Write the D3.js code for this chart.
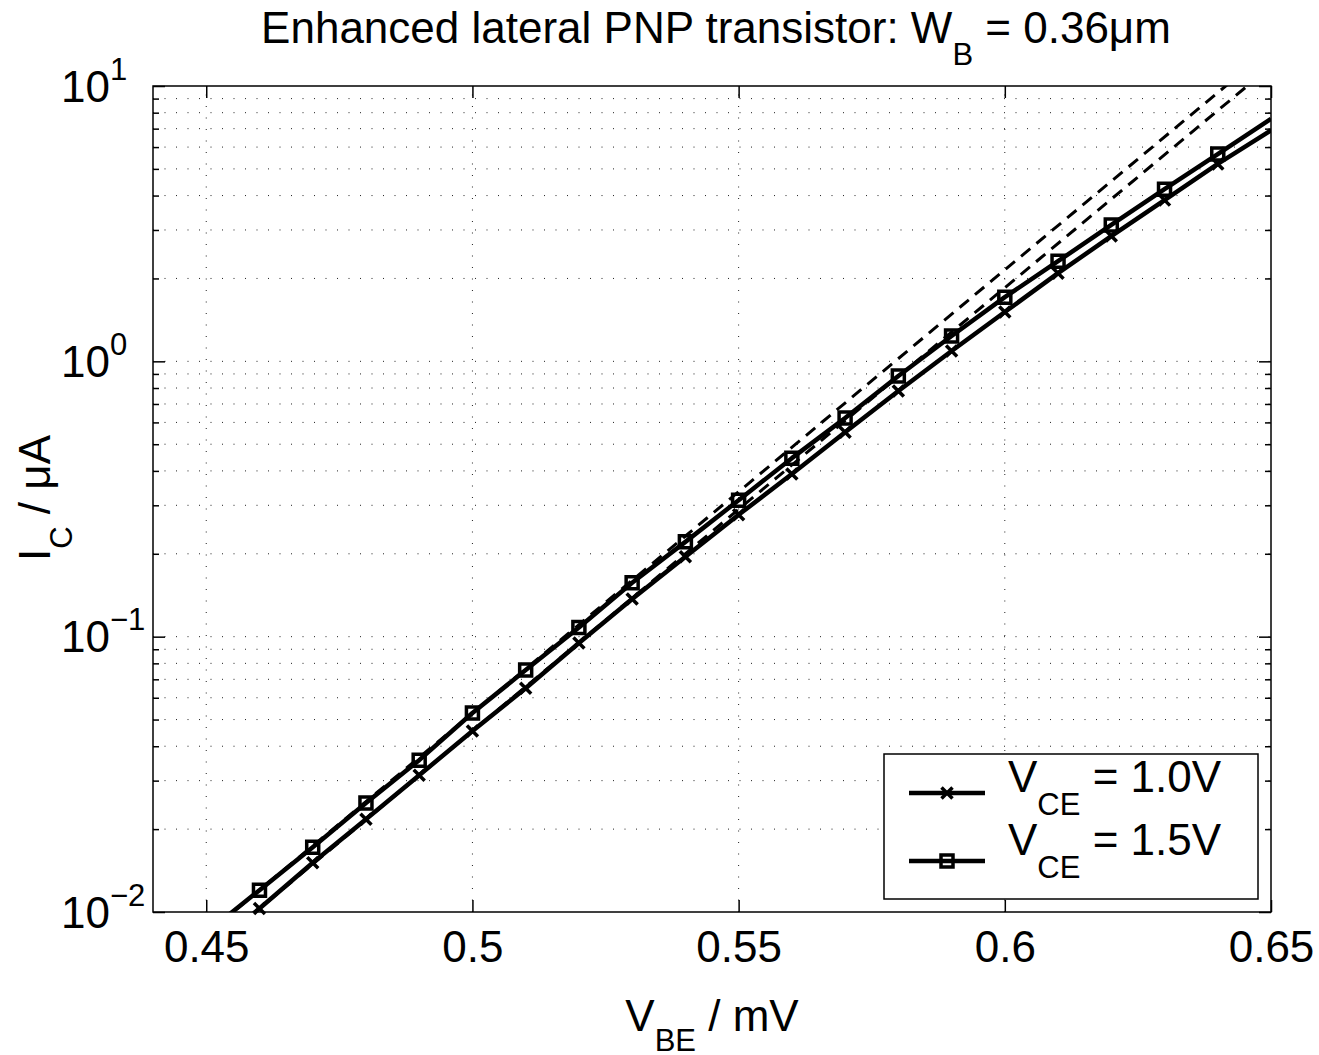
<!DOCTYPE html>
<html>
<head>
<meta charset="utf-8">
<script src="https://cdn.jsdelivr.net/npm/d3@7"></script>
<style>
  body { margin: 0; background: #fff; }
  text { font-family: "Liberation Sans", Arial, Helvetica, sans-serif; fill: #000; }
</style>
</head>
<body>
<div id="chart"></div>
<script>
// V_BE sweep (V) and collector current (uA), one value per sweep point
var vbe = [0.45, 0.46, 0.47, 0.48, 0.49, 0.50, 0.51, 0.52, 0.53, 0.54, 0.55,
           0.56, 0.57, 0.58, 0.59, 0.60, 0.61, 0.62, 0.63, 0.64, 0.65];
var icVce10 = [0.0071, 0.0103, 0.0151, 0.0217, 0.0314, 0.0454, 0.065, 0.0948, 0.137, 0.195, 0.277,
               0.390, 0.553, 0.780, 1.09, 1.51, 2.09, 2.85, 3.85, 5.21, 6.9];
var icVce15 = [0.0084, 0.0120, 0.0172, 0.0249, 0.0356, 0.0528, 0.0756, 0.108, 0.157, 0.221, 0.313,
               0.445, 0.622, 0.885, 1.236, 1.71, 2.31, 3.13, 4.22, 5.66, 7.6];

// ideal (dashed) curves
var vbeIdeal = [0.45, 0.50, 0.55, 0.60, 0.65];
var idealVce10 = [0.0071, 0.0454, 0.290, 1.85, 11.8];
var idealVce15 = [0.0083, 0.0527, 0.336, 2.15, 13.7];

var xTicks = [0.45, 0.5, 0.55, 0.6, 0.65];
var yTickExp = ["\u22122", "\u22121", "0", "1"];
var legendLabels = ["1.0V", "1.5V"];

var width = 1319, height = 1055;
var plotL = 153, plotR = 1271, plotT = 86, plotB = 912;
var fontMain = 44, fontSub = 31;

var svg = d3.select("#chart").append("svg")
  .attr("width", width)
  .attr("height", height);

var x = d3.scaleLinear().domain([0.44, 0.65]).range([plotL, plotR]);
var y = d3.scaleLog().domain([1e-2, 1e1]).range([plotB, plotT]);

var allY = y.ticks();
var isMajor = function(d) {
  var l = Math.log10(d);
  return Math.abs(l - Math.round(l)) < 1e-9;
};
var yMajor = allY.filter(isMajor);
var yMinor = allY.filter(function(d) { return !isMajor(d); });

svg.append("clipPath").attr("id", "plotClip")
  .append("rect")
  .attr("x", plotL).attr("y", plotT)
  .attr("width", plotR - plotL).attr("height", plotB - plotT);

// dotted grid
var grid = svg.append("g")
  .attr("stroke", "#222")
  .attr("stroke-width", 1)
  .attr("stroke-dasharray", "1,10.5");
grid.selectAll("line.gx")
  .data(xTicks.filter(function(d) { return d < 0.65; }))
  .enter().append("line")
  .attr("x1", function(d) { return x(d); }).attr("x2", function(d) { return x(d); })
  .attr("y1", plotB).attr("y2", plotT);
grid.selectAll("line.gy")
  .data(allY.filter(function(d) { return d > 1e-2 && d < 1e1; }))
  .enter().append("line")
  .attr("x1", plotL).attr("x2", plotR)
  .attr("y1", function(d) { return y(d); }).attr("y2", function(d) { return y(d); });

// data
var solid = d3.line()
  .x(function(d) { return x(d[0]); })
  .y(function(d) { return y(d[1]); });

var plot = svg.append("g").attr("clip-path", "url(#plotClip)");

[idealVce10, idealVce15].forEach(function(s) {
  plot.append("path")
    .attr("d", solid(d3.zip(vbeIdeal, s)))
    .attr("fill", "none")
    .attr("stroke", "#000")
    .attr("stroke-width", 3)
    .attr("stroke-dasharray", "12,8");
});

[icVce10, icVce15].forEach(function(s) {
  plot.append("path")
    .attr("d", solid(d3.zip(vbe, s)))
    .attr("fill", "none")
    .attr("stroke", "#000")
    .attr("stroke-width", 4.5)
    .attr("stroke-linejoin", "round");
});

var crossPath = "M-5.5,-5.5L5.5,5.5M-5.5,5.5L5.5,-5.5";
var squarePath = "M-6,-6H6V6H-6Z";

function drawMarkers(g, xs, ys, shape) {
  var pts = d3.zip(xs, ys).filter(function(d) { return d[0] > 0.455 && d[0] < 0.645; });
  g.selectAll(null).data(pts).enter().append("path")
    .attr("d", shape)
    .attr("transform", function(d) { return "translate(" + x(d[0]) + "," + y(d[1]) + ")"; })
    .attr("fill", "none")
    .attr("stroke", "#000")
    .attr("stroke-width", 3.5);
}
drawMarkers(svg.append("g"), vbe, icVce10, crossPath);
drawMarkers(svg.append("g"), vbe, icVce15, squarePath);

// axes (ticks inward on all four sides)
function styleAxis(g) {
  g.select(".domain").remove();
  g.selectAll(".tick line").attr("stroke", "#000").attr("stroke-width", 1.5);
  g.attr("font-family", null).attr("font-size", fontMain);
}

svg.append("g")
  .attr("transform", "translate(0," + plotB + ")")
  .call(d3.axisBottom(x).tickValues(xTicks).tickSize(-12).tickSizeOuter(0).tickPadding(19)
    .tickFormat(function(d) { return String(+d.toFixed(2)); }))
  .call(styleAxis);
svg.append("g")
  .attr("transform", "translate(0," + plotT + ")")
  .call(d3.axisTop(x).tickValues(xTicks).tickSize(-12).tickSizeOuter(0).tickFormat(""))
  .call(styleAxis);

[[d3.axisLeft, plotL], [d3.axisRight, plotR]].forEach(function(a) {
  svg.append("g")
    .attr("transform", "translate(" + a[1] + ",0)")
    .call(a[0](y).tickValues(yMajor).tickSize(-12).tickSizeOuter(0).tickFormat(""))
    .call(styleAxis);
  svg.append("g")
    .attr("transform", "translate(" + a[1] + ",0)")
    .call(a[0](y).tickValues(yMinor).tickSize(-6).tickSizeOuter(0).tickFormat(""))
    .call(styleAxis);
});

svg.append("rect")
  .attr("x", plotL).attr("y", plotT)
  .attr("width", plotR - plotL).attr("height", plotB - plotT)
  .attr("fill", "none").attr("stroke", "#000").attr("stroke-width", 1.5);

// y tick labels 10^n
var yl = svg.append("g").selectAll("text")
  .data(yMajor).enter().append("text")
  .attr("x", 61)
  .attr("y", function(d) { return y(d) + 15.5; })
  .attr("font-size", fontMain);
yl.append("tspan").text("10");
yl.append("tspan")
  .attr("dy", -22)
  .attr("font-size", fontSub)
  .text(function(d, i) { return yTickExp[i]; });

// title
var title = svg.append("text")
  .attr("x", 716).attr("y", 43)
  .attr("text-anchor", "middle")
  .attr("font-size", fontMain);
title.append("tspan").text("Enhanced lateral PNP transistor: W");
title.append("tspan").attr("dy", 22).attr("font-size", fontSub).text("B");
title.append("tspan").attr("dy", -22).text(" = 0.36\u03bcm");

// x label
var xl = svg.append("text")
  .attr("x", 712).attr("y", 1031)
  .attr("text-anchor", "middle")
  .attr("font-size", fontMain);
xl.append("tspan").text("V");
xl.append("tspan").attr("dy", 20).attr("font-size", fontSub).text("BE");
xl.append("tspan").attr("dy", -20).text(" / mV");

// y label
var ylab = svg.append("text")
  .attr("transform", "translate(50,498) rotate(-90)")
  .attr("text-anchor", "middle")
  .attr("font-size", fontMain);
ylab.append("tspan").text("I");
ylab.append("tspan").attr("dy", 22).attr("font-size", fontSub).text("C");
ylab.append("tspan").attr("dy", -22).text(" / \u03bcA");

// legend
var legend = svg.append("g");
legend.append("rect")
  .attr("x", 884).attr("y", 754)
  .attr("width", 374).attr("height", 145)
  .attr("fill", "#fff").attr("stroke", "#000").attr("stroke-width", 1.5);

var legendRows = [
  { ly: 793, ty: 792, shape: crossPath, label: legendLabels[0] },
  { ly: 861, ty: 855, shape: squarePath, label: legendLabels[1] }
];
legendRows.forEach(function(r) {
  legend.append("line")
    .attr("x1", 909).attr("x2", 985)
    .attr("y1", r.ly).attr("y2", r.ly)
    .attr("stroke", "#000").attr("stroke-width", 4.5);
  legend.append("path")
    .attr("d", r.shape)
    .attr("transform", "translate(947," + r.ly + ")")
    .attr("fill", "none").attr("stroke", "#000").attr("stroke-width", 3.5);
  var t = legend.append("text")
    .attr("x", 1008).attr("y", r.ty)
    .attr("font-size", fontMain);
  t.append("tspan").text("V");
  t.append("tspan").attr("dy", 23).attr("font-size", fontSub).text("CE");
  t.append("tspan").attr("dy", -23).text(" = " + r.label);
});
</script>
</body>
</html>
